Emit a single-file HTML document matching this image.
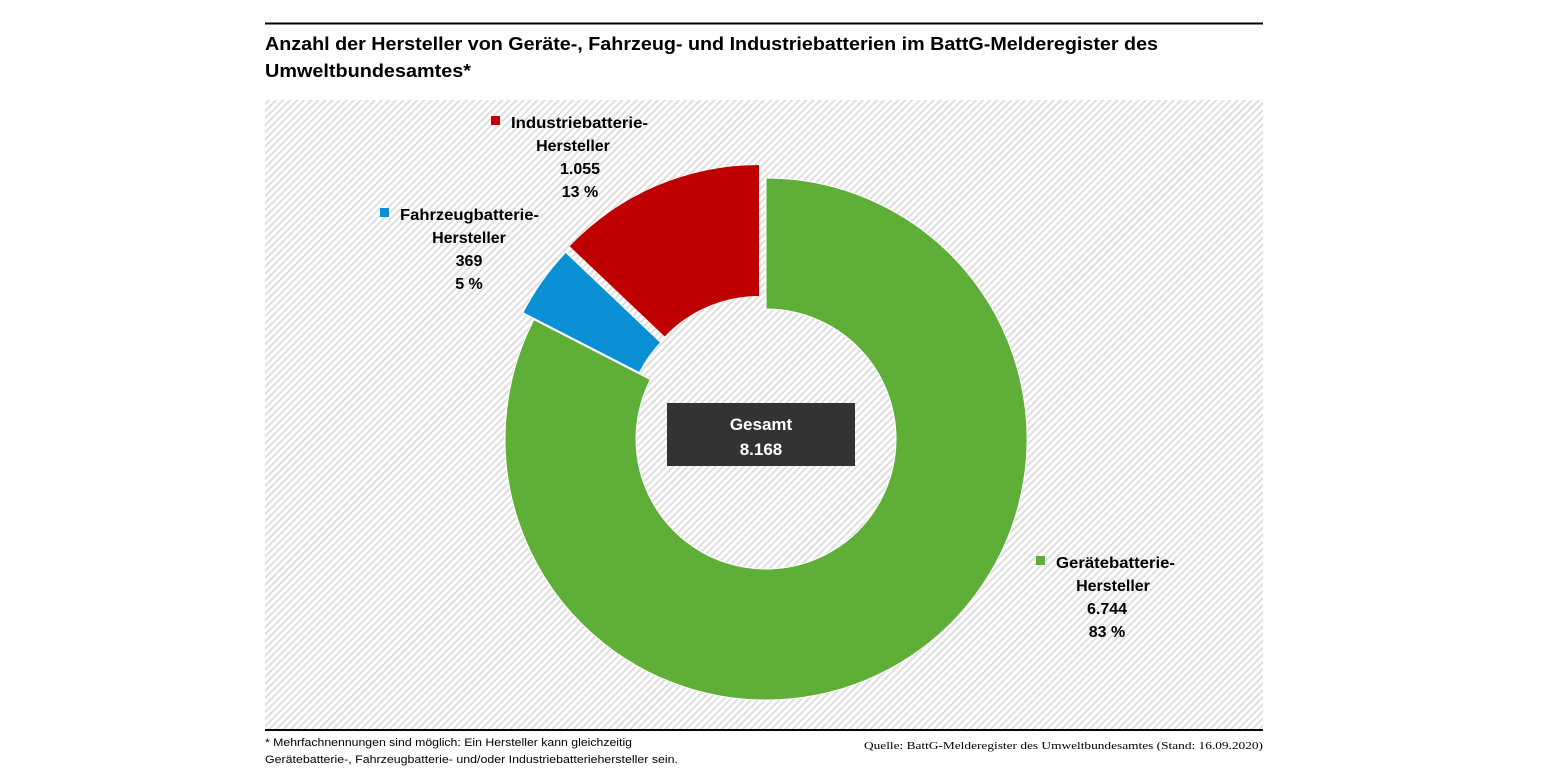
<!DOCTYPE html>
<html><head><meta charset="utf-8"><style>
html,body{margin:0;padding:0;background:#fff;}
svg{display:block;}
text{font-family:"Liberation Sans",sans-serif;font-weight:bold;fill:#000;}
</style></head><body>
<svg width="1545" height="775" viewBox="0 0 1545 775">
<defs>
<pattern id="h" width="5" height="5" patternUnits="userSpaceOnUse" patternTransform="rotate(45)">
<rect width="5" height="5" fill="#fff"/>
<rect width="2" height="5" fill="#dedede"/>
</pattern>
</defs>
<rect x="0" y="0" width="1545" height="775" fill="#fff"/>
<line x1="265" y1="23.5" x2="1263" y2="23.5" stroke="#000" stroke-width="2"/>
<text x="265" y="50" font-size="18" textLength="893" lengthAdjust="spacingAndGlyphs">Anzahl der Hersteller von Geräte-, Fahrzeug- und Industriebatterien im BattG-Melderegister des</text>
<text x="265" y="77" font-size="18" textLength="206" lengthAdjust="spacingAndGlyphs">Umweltbundesamtes*</text>
<rect x="265" y="100" width="998" height="630" fill="url(#h)"/>
<path d="M766,178 A261,261 0 1 1 533.9,319.7 L650.4,379.6 A130,130 0 1 0 766,309 Z" fill="#5fae37" stroke="#fff" stroke-width="1"/>
<path d="M522.9,312.7 A261,261 0 0 1 565.7,252.3 L660.7,342.5 A130,130 0 0 0 639.4,372.6 Z" fill="#0b90d6" stroke="#fff" stroke-width="1"/>
<path d="M569.7,246.3 A261,261 0 0 1 759,165 L759,296 A130,130 0 0 0 664.7,336.5 Z" fill="#be0000"/>
<rect x="667" y="403" width="188" height="63" fill="#333"/>
<text x="761" y="430" font-size="17" text-anchor="middle" style="fill:#fff">Gesamt</text>
<text x="761" y="455" font-size="17" text-anchor="middle" style="fill:#fff">8.168</text>

<rect x="491" y="116" width="9" height="9" fill="#be0000"/>
<text x="511" y="128" font-size="16" textLength="137" lengthAdjust="spacingAndGlyphs">Industriebatterie-</text>
<text x="573" y="151" font-size="16" text-anchor="middle">Hersteller</text>
<text x="580" y="174" font-size="16" text-anchor="middle">1.055</text>
<text x="580" y="197" font-size="16" text-anchor="middle">13 %</text>

<rect x="380" y="208" width="9" height="9" fill="#0b90d6"/>
<text x="400" y="220" font-size="16" textLength="139" lengthAdjust="spacingAndGlyphs">Fahrzeugbatterie-</text>
<text x="469" y="243" font-size="16" text-anchor="middle">Hersteller</text>
<text x="469" y="266" font-size="16" text-anchor="middle">369</text>
<text x="469" y="289" font-size="16" text-anchor="middle">5 %</text>

<rect x="1036" y="556" width="9" height="9" fill="#5fae37"/>
<text x="1056" y="568" font-size="16" textLength="119" lengthAdjust="spacingAndGlyphs">Gerätebatterie-</text>
<text x="1113" y="591" font-size="16" text-anchor="middle">Hersteller</text>
<text x="1107" y="614" font-size="16" text-anchor="middle">6.744</text>
<text x="1107" y="637" font-size="16" text-anchor="middle">83 %</text>

<line x1="265" y1="730" x2="1263" y2="730" stroke="#000" stroke-width="2"/>
<text x="265" y="746" font-size="11" style="font-weight:normal" textLength="367" lengthAdjust="spacingAndGlyphs">* Mehrfachnennungen sind möglich: Ein Hersteller kann gleichzeitig</text>
<text x="265" y="763" font-size="11" style="font-weight:normal" textLength="413" lengthAdjust="spacingAndGlyphs">Gerätebatterie-, Fahrzeugbatterie- und/oder Industriebatteriehersteller sein.</text>
<text x="864" y="749" font-size="11" style="font-weight:normal;font-family:'Liberation Serif',serif" textLength="399" lengthAdjust="spacingAndGlyphs">Quelle: BattG-Melderegister des Umweltbundesamtes (Stand: 16.09.2020)</text>
</svg>
</body></html>
